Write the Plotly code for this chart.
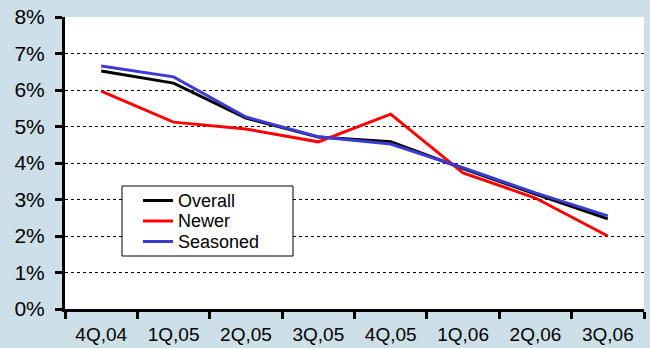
import plotly.graph_objects as go

quarters = ["4Q,04", "1Q,05", "2Q,05", "3Q,05", "4Q,05", "1Q,06", "2Q,06", "3Q,06"]
overall = [6.52, 6.19, 5.23, 4.71, 4.58, 3.85, 3.15, 2.47]
newer = [5.97, 5.12, 4.93, 4.58, 5.34, 3.73, 3.04, 2.00]
seasoned = [6.66, 6.36, 5.26, 4.72, 4.52, 3.87, 3.18, 2.55]
y_ticks = [0, 1, 2, 3, 4, 5, 6, 7, 8]
y_tick_labels = [f"{v}%" for v in y_ticks]

series = [
    ("Overall", overall, "#000000"),
    ("Newer", newer, "#ff0000"),
    ("Seasoned", seasoned, "#3b3bd0"),
]

# plot-area geometry in pixels (used to place the boxed legend)
W, H = 650, 348
ML, MR, MT, MB = 65, 6, 17, 39
PW, PH = W - ML - MR, H - MT - MB


def px_x(x):
    return (x - ML) / PW


def px_y(y):
    return (H - MB - y) / PH


fig = go.Figure()
for name, vals, color in series:
    fig.add_trace(go.Scatter(
        x=quarters, y=vals, name=name, mode="lines",
        line=dict(color=color, width=3), showlegend=False,
    ))

# boxed legend
shapes = [dict(type="rect", xref="paper", yref="paper",
               x0=px_x(122), x1=px_x(293), y0=px_y(256), y1=px_y(186),
               line=dict(color="#000000", width=1), fillcolor="#ffffff", layer="above")]
annotations = []
for i, (name, _, color) in enumerate(series):
    yy = 200.5 + i * 20.5
    shapes.append(dict(type="line", xref="paper", yref="paper",
                       x0=px_x(143), x1=px_x(173), y0=px_y(yy), y1=px_y(yy),
                       line=dict(color=color, width=3), layer="above"))
    annotations.append(dict(xref="paper", yref="paper", x=px_x(176), y=px_y(yy),
                            text=name, showarrow=False, xanchor="left", yanchor="middle",
                            font=dict(size=18, color="#000000")))

fig.update_layout(
    width=W, height=H,
    margin=dict(l=ML, r=MR, t=MT, b=MB, autoexpand=False),
    paper_bgcolor="#cddfe9",
    plot_bgcolor="#ffffff",
    font=dict(family="Liberation Sans, Arial, sans-serif", color="#000000"),
    showlegend=False,
    shapes=shapes,
    annotations=annotations,
    xaxis=dict(
        type="category", tickson="boundaries", automargin=False,
        showline=True, linecolor="#000000", linewidth=3,
        ticks="outside", ticklen=7, tickwidth=3, tickcolor="#000000",
        tickfont=dict(size=19), ticklabelstandoff=6,
        showgrid=False, range=[-0.5, 7.5],
    ),
    yaxis=dict(
        range=[0, 8], tickvals=y_ticks, ticktext=y_tick_labels, automargin=False,
        showline=True, linecolor="#000000", linewidth=3,
        ticks="outside", ticklen=7, tickwidth=3, tickcolor="#000000",
        tickfont=dict(size=21), ticklabelstandoff=6,
        showgrid=True, gridcolor="#000000", gridwidth=1, griddash="dot",
        zeroline=False,
    ),
)

fig.write_html("out.html")
